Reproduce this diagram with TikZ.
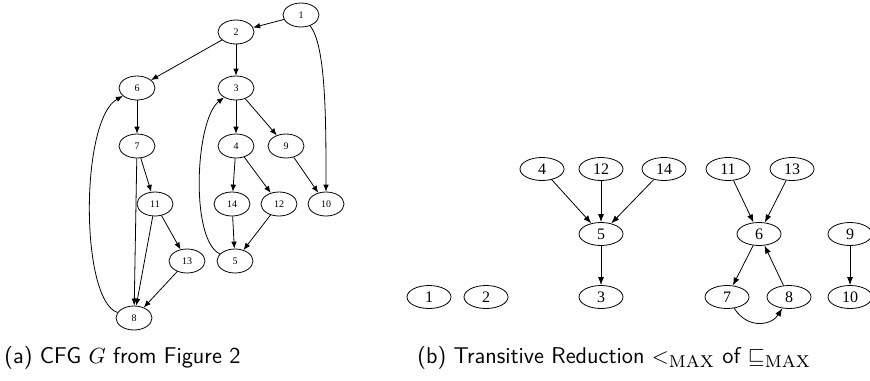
\documentclass[tikz,border=0pt]{standalone}
\usepackage{fontspec}
\newfontfamily\dotfont{Liberation Serif}
\usetikzlibrary{shapes.geometric,arrows.meta}
\newcommand{\maxsub}{\textnormal{\scshape max}}

\begin{document}
\begin{tikzpicture}[x=0.5pt, y=-0.5pt, line width=0.4pt,
  cfg/.style={draw, ellipse, inner sep=0pt, minimum width=18pt,
              minimum height=12pt, font=\dotfont\fontsize{5}{6}\selectfont},
  red/.style={draw, ellipse, inner sep=0pt, minimum width=22pt,
              minimum height=11.5pt, font=\dotfont\fontsize{8}{9}\selectfont},
  cfgedge/.style={-{Latex[length=3.5pt,width=2.8pt]}},
  rededge/.style={-{Latex[length=4pt,width=3pt]}},
  caption/.style={anchor=base west, inner sep=0pt,
                  font=\sffamily\fontsize{11.4}{13}\selectfont}]
  \useasboundingbox (0,0) rectangle (870,380);

  % (a) the control flow graph
  \node (a1)  [cfg] at (301,15)  {1};
  \node (a2)  [cfg] at (236,32)  {2};
  \node (a6)  [cfg] at (137,88)  {6};
  \node (a3)  [cfg] at (236,88)  {3};
  \node (a7)  [cfg] at (137,146) {7};
  \node (a4)  [cfg] at (236,146) {4};
  \node (a9)  [cfg] at (286,146) {9};
  \node (a11) [cfg] at (155,204) {11};
  \node (a14) [cfg] at (232,204) {14};
  \node (a12) [cfg] at (279,204) {12};
  \node (a10) [cfg] at (326,204) {10};
  \node (a13) [cfg] at (187,261) {13};
  \node (a5)  [cfg] at (235,261) {5};
  \node (a8)  [cfg] at (134,318) {8};

  \draw[cfgedge] (a1)  -- (a2);
  \draw[cfgedge] (a1)  .. controls (326,45) and (326,120) .. (a10);
  \draw[cfgedge] (a2)  -- (a6);
  \draw[cfgedge] (a2)  -- (a3);
  \draw[cfgedge] (a6)  -- (a7);
  \draw[cfgedge] (a3)  -- (a4);
  \draw[cfgedge] (a3)  -- (a9);
  \draw[cfgedge] (a7)  -- (a11);
  \draw[cfgedge] (a7)  -- (a8);
  \draw[cfgedge] (a4)  -- (a14);
  \draw[cfgedge] (a4)  -- (a12);
  \draw[cfgedge] (a9)  -- (a10);
  \draw[cfgedge] (a11) -- (a8);
  \draw[cfgedge] (a11) -- (a13);
  \draw[cfgedge] (a13) -- (a8);
  \draw[cfgedge] (a14) -- (a5);
  \draw[cfgedge] (a12) -- (a5);
  \draw[cfgedge] (a5)  .. controls (190,240) and (195,120) .. (a3);
  \draw[cfgedge] (a8)  .. controls (80,300) and (80,120) .. (a6);

  % (b) the transitive reduction
  \node (b4)  [red] at (542,169) {4};
  \node (b12) [red] at (601,169) {12};
  \node (b14) [red] at (664,169) {14};
  \node (b11) [red] at (728,169) {11};
  \node (b13) [red] at (792,169) {13};
  \node (b5)  [red] at (601,234) {5};
  \node (b6)  [red] at (759,234) {6};
  \node (b9)  [red] at (850,234) {9};
  \node (b1)  [red] at (429,297) {1};
  \node (b2)  [red] at (486,297) {2};
  \node (b3)  [red] at (601,297) {3};
  \node (b7)  [red] at (727,297) {7};
  \node (b8)  [red] at (789,297) {8};
  \node (b10) [red] at (850,297) {10};

  \draw[rededge] (b4)  -- (b5);
  \draw[rededge] (b12) -- (b5);
  \draw[rededge] (b14) -- (b5);
  \draw[rededge] (b5)  -- (b3);
  \draw[rededge] (b11) -- (b6);
  \draw[rededge] (b13) -- (b6);
  \draw[rededge] (b6)  -- (b7);
  \draw[rededge] (b8)  -- (b6);
  \draw[rededge] (b7)  .. controls (748,330) and (772,325) .. (b8);
  \draw[rededge] (b9)  -- (b10);

  % sub-captions
  \node (capa) [caption] at (4,363)   {(a) CFG $G$ from Figure 2};
  \node (capb) [caption] at (417,363)
    {(b) Transitive Reduction $<_{\maxsub}$ of $\sqsubseteq_{\maxsub}$};
\end{tikzpicture}
\end{document}
